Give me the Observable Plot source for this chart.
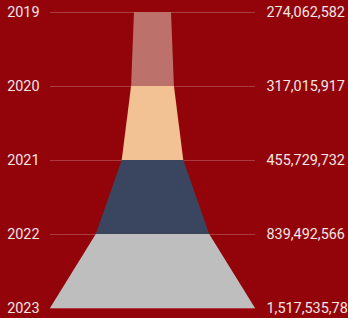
<!DOCTYPE html>
<html><head><meta charset="utf-8">
<script src="https://cdn.jsdelivr.net/npm/d3@7"></script>
<script src="https://cdn.jsdelivr.net/npm/@observablehq/plot@0.6"></script>
<style>
html,body{margin:0;padding:0;background:#920409;overflow:hidden}
</style></head>
<body><div id="chart"></div>
<script>
const years = [2019, 2020, 2021, 2022, 2023];
const values = [274062582, 317015917, 455729732, 839492566, 1517535783];
const bandColors = ["#bd716b", "#f2c294", "#3a465f", "#bebebe"];

const maxV = d3.max(values);
const rows = [];
for (let i = 0; i < years.length - 1; i++) {
  for (const j of [i, i + 1]) {
    rows.push({band: i, year: years[j], lo: -values[j] / 2, hi: values[j] / 2});
  }
}

const chart = Plot.plot({
  width: 348, height: 318,
  marginLeft: 50, marginRight: 93, marginTop: 12, marginBottom: 10,
  style: {background: "#920409", color: "#f2e6e6", fontFamily: "Roboto, sans-serif", fontSize: "14.4px"},
  x: {domain: [-maxV / 2, maxV / 2], axis: null},
  y: {domain: [2023, 2019], range: [308, 12]},
  color: {type: "ordinal", domain: [0, 1, 2, 3], range: bandColors},
  marks: [
    Plot.gridY(years, {stroke: "#ffffff", strokeOpacity: 0.22, strokeWidth: 1.2}),
    Plot.areaX(rows, {y: "year", x1: "lo", x2: "hi", z: "band", fill: d => d.band, curve: "linear"}),
    Plot.axisY(years, {anchor: "left", tickSize: 0, tickPadding: 11, tickFormat: d => String(d), label: null, fontSize: 14.4}),
    Plot.axisY(years, {anchor: "right", tickSize: 0, tickPadding: 11, tickFormat: d => d3.format(",")(values[years.indexOf(d)]), label: null, fontSize: 14.4})
  ]
});
document.getElementById("chart").appendChild(chart);
</script></body></html>
